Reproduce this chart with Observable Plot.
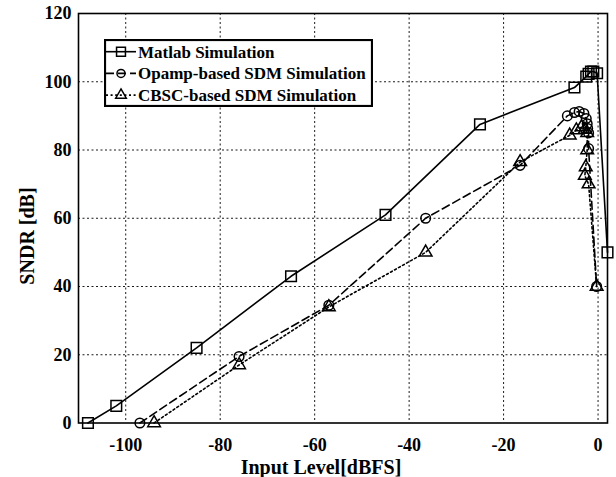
<!DOCTYPE html>
<html><head><meta charset="utf-8">
<script src="https://cdn.jsdelivr.net/npm/d3@7"></script>
<script src="https://cdn.jsdelivr.net/npm/@observablehq/plot@0.6"></script>
<style>
body{margin:0;background:#fff;}
#wrap{position:relative;width:616px;height:477px;font-family:"Liberation Serif","Times New Roman",serif;font-weight:bold;color:#000;}
.lbl{position:absolute;white-space:nowrap;font-size:20px;line-height:24px;text-align:center;}
#legend{position:absolute;left:104px;top:39px;}
</style></head><body><div id="wrap"></div>
<script>
const xTicks = [-100, -80, -60, -40, -20, 0];
const yTicks = [0, 20, 40, 60, 80, 100, 120];

const seriesNames = ["Matlab Simulation", "Opamp-based SDM Simulation", "CBSC-based SDM Simulation"];

const matlabX = [-108, -102, -85, -65, -45, -25, -5, -2.5, -2, -1.5, -1, -0.2, 2];
const matlabY = [0, 5, 22, 43, 61, 87.5, 98.3, 101.5, 102.3, 103, 103, 102.5, 50];

const opampX = [-97, -76, -57, -36.5, -16.5, -6.5, -5, -4, -3, -2.5, -2.3, -2.2, -2, -2, -0.3];
const opampY = [0, 19.5, 34.5, 60, 75.5, 90, 91, 91.3, 90.7, 89.2, 87.7, 86.3, 85, 80.4, 40];

const cbscX = [-94, -76, -57, -36.5, -16.5, -6, -4.6, -3.5, -2.8, -2.3, -2.3, -2.6, -2.8, -2, -0.3];
const cbscY = [0, 17, 34, 50, 76.5, 84.3, 85.8, 86.7, 86, 85, 80, 75, 72.5, 70, 40];

const toRows = (xs, ys) => xs.map((x, i) => ({x, y: ys[i]}));
const matlab = toRows(matlabX, matlabY);
const opamp = toRows(opampX, opampY);
const cbsc = toRows(cbscX, cbscY);

const styles = [
  {dash: null, symbol: "square", r: 6},
  {dash: "8,4", symbol: "circle", r: 4.8},
  {dash: "2,2.6", symbol: "triangle", r: 4.7}
];

const grid = {stroke: "black", strokeOpacity: 1, strokeWidth: 0.9, strokeDasharray: "2,2.5"};
const lw0 = 1.6;

const chart = Plot.plot({
  width: 616, height: 477,
  marginLeft: 78, marginRight: 9, marginTop: 13, marginBottom: 54.5,
  x: {domain: [-110, 2], ticks: xTicks, tickFormat: d => String(d), label: null},
  y: {domain: [0, 120], ticks: yTicks, tickFormat: d => String(d), label: null},
  style: {fontFamily: "'Liberation Serif','Times New Roman',serif", fontWeight: "bold", fontSize: "18px", color: "black", background: "white"},
  marks: [
    Plot.gridX(xTicks, grid),
    Plot.gridY(yTicks.filter(d => d > 0 && d < 120), grid),
    Plot.axisX({ticks: xTicks, tickSize: 0, tickPadding: 15, tickFormat: d => String(d), label: null, fontSize: 18}),
    Plot.axisY({ticks: yTicks, tickSize: 0, tickPadding: 7, tickFormat: d => String(d), label: null, fontSize: 18}),
    Plot.line(matlab, {x: "x", y: "y", stroke: "black", strokeWidth: lw0}),
    Plot.line(opamp, {x: "x", y: "y", stroke: "black", strokeWidth: lw0, strokeDasharray: styles[1].dash}),
    Plot.line(cbsc, {x: "x", y: "y", stroke: "black", strokeWidth: lw0, strokeDasharray: styles[2].dash}),
    Plot.dot(matlab, {x: "x", y: "y", symbol: "square", r: styles[0].r, stroke: "black", strokeWidth: 1.5, fill: "none"}),
    Plot.dot(opamp, {x: "x", y: "y", symbol: "circle", r: styles[1].r, stroke: "black", strokeWidth: 1.5, fill: "none"}),
    Plot.dot(cbsc, {x: "x", y: "y", symbol: "triangle", r: styles[2].r, stroke: "black", strokeWidth: 1.5, fill: "none"}),
    Plot.frame({stroke: "black", strokeWidth: 1.6})
  ]
});

const wrap = document.getElementById("wrap");
wrap.appendChild(chart);

// axis titles
const xl = document.createElement("div");
xl.className = "lbl"; xl.textContent = "Input Level[dBFS]";
xl.style.left = (321 - 150) + "px"; xl.style.top = (467 - 12) + "px"; xl.style.width = "300px";
wrap.appendChild(xl);

const yl = document.createElement("div");
yl.className = "lbl"; yl.textContent = "SNDR [dB]";
yl.style.left = (27 - 100) + "px"; yl.style.top = (236 - 12) + "px"; yl.style.width = "200px";
yl.style.transform = "rotate(-90deg)";
wrap.appendChild(yl);

// legend
const lw = 269, lh = 68;
const lg = d3.select(wrap).append("svg").attr("id", "legend").attr("width", lw).attr("height", lh);
lg.append("rect").attr("x", 1).attr("y", 1).attr("width", lw - 2).attr("height", lh - 2)
  .attr("fill", "white").attr("stroke", "black").attr("stroke-width", 2.2);
const symGen = {square: d3.symbolSquare, circle: d3.symbolCircle, triangle: d3.symbolTriangle};
seriesNames.forEach((name, i) => {
  const cy = 12.7 + i * 21.7;
  const st = styles[i];
  lg.append("line").attr("x1", 2).attr("x2", 32).attr("y1", cy).attr("y2", cy)
    .attr("stroke", "black").attr("stroke-width", lw0).attr("stroke-dasharray", st.dash);
  lg.append("path").attr("transform", `translate(17,${cy})`)
    .attr("d", d3.symbol(symGen[st.symbol], Math.PI * st.r * st.r * 0.7)())
    .attr("fill", "none").attr("stroke", "black").attr("stroke-width", 1.5);
  lg.append("text").attr("x", 34).attr("y", cy + 5.8).text(name)
    .attr("font-family", "'Liberation Serif','Times New Roman',serif").attr("font-weight", "bold").attr("font-size", 17);
});
</script></body></html>
